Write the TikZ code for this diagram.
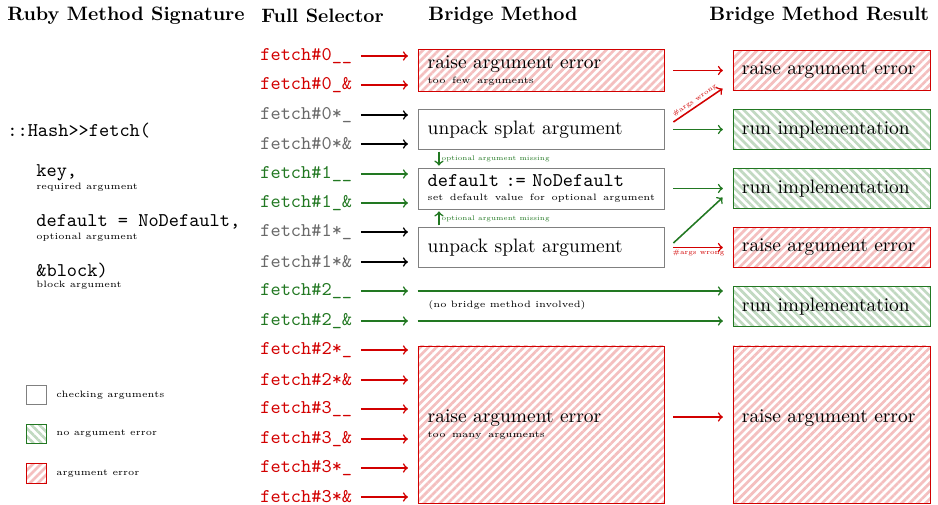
\documentclass[tikz,border=0pt]{standalone}
\usetikzlibrary{patterns.meta,calc}

\definecolor{errred}{RGB}{210,0,0}
\definecolor{okgreen}{RGB}{34,120,34}
\definecolor{selgray}{RGB}{105,105,105}

\newcommand{\smallnote}{\fontsize{4.75}{5.5}\selectfont}

\tikzset{
  title/.style={anchor=west, inner sep=0pt, font=\bfseries},
  sel/.style={anchor=west, inner sep=0pt, text width=49pt, font=\ttfamily},
  note/.style={anchor=west, inner sep=0pt, font=\smallnote},
  bridge/.style={minimum width=126.7pt, minimum height=20.3pt, text width=116.7pt,
    inner xsep=5pt, align=left},
  result/.style={minimum width=101.5pt, minimum height=20.3pt, text width=92.3pt,
    inner xsep=4.6pt, align=left},
  checkbox/.style={draw=gray},
  errbox/.style={draw=errred, pattern={Lines[angle=45,distance=2.9pt,line width=1.4pt]},
    pattern color=errred!25},
  okbox/.style={draw=okgreen, pattern={Lines[angle=-45,distance=2.9pt,line width=1.4pt]},
    pattern color=okgreen!28},
  arr/.style={->, thick, shorten <=2.5pt, shorten >=5pt},
  resarr/.style={->, thick, shorten <=4.6pt, shorten >=5pt},
  tinylabel/.style={font=\fontsize{3.5}{4}\selectfont, inner sep=1pt}
}

\begin{document}
\begin{tikzpicture}[x=0.515pt, y=-0.515pt]
    \useasboundingbox (0,0) rectangle (938,505);

    % column titles
    \node[title] (tsig) at (7,16) {Ruby Method Signature};
    \node[title] (tsel) at (261,16) {Full Selector};
    \node[title] (tbri) at (428,16) {Bridge Method};
    \node[title] (tres) at (709,16) {Bridge Method Result};

    % ruby signature
    \node[anchor=west, inner sep=0pt, font=\ttfamily] (sig) at (7,131) {::Hash>>fetch(};
    \node[anchor=west, inner sep=0pt, font=\ttfamily] (key) at (36,173) {key,};
    \node[note] (keyn) at (36,187) {required argument};
    \node[anchor=west, inner sep=0pt, font=\ttfamily] (dflt) at (36,222) {default = NoDefault,};
    \node[note] (dfltn) at (36,237) {optional argument};
    \node[anchor=west, inner sep=0pt, font=\ttfamily] (blk) at (36,271) {\&block)};
    \node[note] (blkn) at (36,285) {block argument};

    % legend
    \node[checkbox, minimum size=10pt, inner sep=0pt] (lg1) at (36.5,395) {};
    \node[okbox, minimum size=10pt, inner sep=0pt] (lg2) at (36.5,434) {};
    \node[errbox, minimum size=10pt, inner sep=0pt] (lg3) at (36.5,473.5) {};
    \node[note] at (56,395) {checking arguments};
    \node[note] at (56,434) {no argument error};
    \node[note] at (56,473.5) {argument error};

    % full selectors
    \node[sel, errred] (s0) at (260,56) {fetch\#0\_\_};
    \node[sel, errred] (s1) at (260,85) {fetch\#0\_\&};
    \node[sel, selgray] (s2) at (260,115) {fetch\#0*\_};
    \node[sel, selgray] (s3) at (260,144) {fetch\#0*\&};
    \node[sel, okgreen] (s4) at (260,174) {fetch\#1\_\_};
    \node[sel, okgreen] (s5) at (260,203) {fetch\#1\_\&};
    \node[sel, selgray] (s6) at (260,232) {fetch\#1*\_};
    \node[sel, selgray] (s7) at (260,262) {fetch\#1*\&};
    \node[sel, okgreen] (s8) at (260,291) {fetch\#2\_\_};
    \node[sel, okgreen] (s9) at (260,321) {fetch\#2\_\&};
    \node[sel, errred] (s10) at (260,350) {fetch\#2*\_};
    \node[sel, errred] (s11) at (260,380) {fetch\#2*\&};
    \node[sel, errred] (s12) at (260,409) {fetch\#3\_\_};
    \node[sel, errred] (s13) at (260,439) {fetch\#3\_\&};
    \node[sel, errred] (s14) at (260,468) {fetch\#3*\_};
    \node[sel, errred] (s15) at (260,497) {fetch\#3*\&};

    % bridge methods
    \node[bridge, errbox] (b1) at (541,70.5) {raise argument error\\[-4.6pt]{\smallnote too few arguments}};
    \node[bridge, checkbox] (b2) at (541,129.5) {unpack splat argument};
    \node[bridge, checkbox] (b3) at (541,188.5) {\texttt{default := NoDefault}\\[-4.6pt]\mbox{\smallnote set default value for optional argument}};
    \node[bridge, checkbox] (b4) at (541,247.5) {unpack splat argument};
    \node[note] (nob) at (428,305) {(no bridge method involved)};
    \node[bridge, errbox, minimum height=80.9pt] (b5) at (541,424.5) {raise argument error\\[-4.6pt]{\smallnote too many arguments}};

    % results
    \node[result, errbox] (r1) at (831.5,70.5) {raise argument error};
    \node[result, okbox] (r2) at (831.5,129.5) {run implementation};
    \node[result, okbox] (r3) at (831.5,188.5) {run implementation};
    \node[result, errbox] (r4) at (831.5,247.5) {raise argument error};
    \node[result, okbox] (r5) at (831.5,306.5) {run implementation};
    \node[result, errbox, minimum height=80.9pt] (r6) at (831.5,424.5) {raise argument error\\[-4.6pt]{\smallnote\phantom{too many arguments}}};

    % selector -> bridge
    \draw[arr, errred] (s0.east) -- (b1.west |- s0.east);
    \draw[arr, errred] (s1.east) -- (b1.west |- s1.east);
    \draw[arr] (s2.east) -- (b2.west |- s2.east);
    \draw[arr] (s3.east) -- (b2.west |- s3.east);
    \draw[arr, okgreen] (s4.east) -- (b3.west |- s4.east);
    \draw[arr, okgreen] (s5.east) -- (b3.west |- s5.east);
    \draw[arr] (s6.east) -- (b4.west |- s6.east);
    \draw[arr] (s7.east) -- (b4.west |- s7.east);
    \draw[arr, okgreen] (s8.east) -- (b5.west |- s8.east);
    \draw[arr, okgreen] (s9.east) -- (b5.west |- s9.east);
    \draw[arr, errred] (s10.east) -- (b5.west |- s10.east);
    \draw[arr, errred] (s11.east) -- (b5.west |- s11.east);
    \draw[arr, errred] (s12.east) -- (b5.west |- s12.east);
    \draw[arr, errred] (s13.east) -- (b5.west |- s13.east);
    \draw[arr, errred] (s14.east) -- (b5.west |- s14.east);
    \draw[arr, errred] (s15.east) -- (b5.west |- s15.east);
    \draw[->, thick, okgreen, shorten >=5pt] (b5.west |- s8.east) -- (r5.west |- s8.east);
    \draw[->, thick, okgreen, shorten >=5pt] (b5.west |- s9.east) -- (r5.west |- s9.east);

    % optional argument missing
    \draw[->, thick, okgreen, shorten <=1pt, shorten >=1pt] ([xshift=11pt]b2.south west) -- ([xshift=11pt]b3.north west)
      node[midway, right, tinylabel] {optional argument missing};
    \draw[->, thick, okgreen, shorten <=1pt, shorten >=1pt] ([xshift=11pt]b4.north west) -- ([xshift=11pt]b3.south west)
      node[midway, right, tinylabel] {optional argument missing};

    % bridge -> result
    \draw[resarr, errred] (b1) -- (r1);
    \draw[resarr, okgreen] (b2) -- (r2);
    \draw[->, thick, errred] ([shift={(9,-7.5)}]b2.east) -- ([shift={(-10,-2)}]r1.south west)
      node[midway, sloped, above, tinylabel] {\#args wrong};
    \draw[resarr, okgreen] (b3) -- (r3);
    \draw[->, thick, okgreen] ([shift={(9,-4.5)}]b4.east) -- ([shift={(-10,-11)}]r3.south west);
    \draw[resarr, errred] (b4) -- (r4) node[midway, below, tinylabel] {\#args wrong};
    \draw[resarr, errred] ([shift={(0,-7.5)}]b5.east) -- ([shift={(0,-7.5)}]r6.west);
\end{tikzpicture}
\end{document}
